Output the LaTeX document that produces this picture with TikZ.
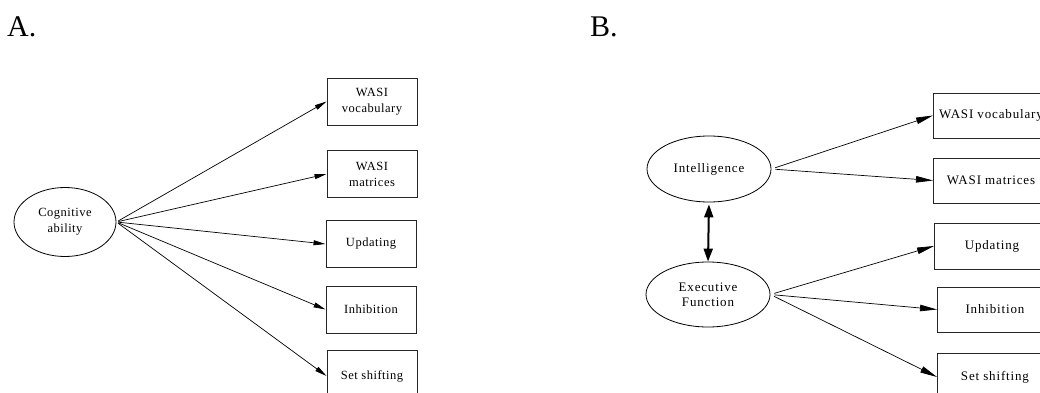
\documentclass[tikz,border=0pt]{standalone}
\usepackage{fontspec}
\setmainfont{Liberation Serif}
\usetikzlibrary{arrows.meta,shapes.geometric}
\newfontfamily\lblfont{Liberation Serif}
\newfontfamily\afont[LetterSpace=4]{Liberation Serif}
\newfontfamily\bfont[LetterSpace=6.5]{Liberation Serif}
\tikzset{
  panellabel/.style={anchor=base west,inner sep=0pt,font=\lblfont\fontsize{30}{30}\selectfont},
  latA/.style={ellipse,draw,line width=0.8pt,inner sep=0pt,minimum width=102pt,minimum height=69pt,align=center,font=\afont\fontsize{12.5}{16}\selectfont},
  boxA/.style={rectangle,draw=black!85,line width=0.9pt,inner sep=0pt,minimum width=90pt,minimum height=47pt,align=center,font=\afont\fontsize{12.5}{16}\selectfont},
  latB/.style={ellipse,draw,line width=0.8pt,inner sep=0pt,minimum width=124pt,minimum height=66pt,align=center,font=\bfont\fontsize{13}{15}\selectfont},
  boxB/.style={rectangle,draw=black!85,line width=0.9pt,inner sep=0pt,minimum width=115pt,minimum height=45pt,anchor=west,align=center,font=\bfont\fontsize{13}{15}\selectfont},
  arrA/.style={-{Triangle[length=12pt,width=5pt]},line width=0.7pt,shorten <=2pt},
  arrB/.style={-{Triangle[length=17pt,width=6.5pt]},line width=0.7pt,shorten <=4pt},
  dblB/.style={{Triangle[length=13pt,width=9pt]}-{Triangle[length=13pt,width=9pt]},line width=2pt,shorten <=2pt}
}
\begin{document}
\begin{tikzpicture}[x=1pt,y=-1pt]
\useasboundingbox (0,0) rectangle (1040,393);
\clip (0,0) rectangle (1040,393);
% Panel A
\node[panellabel] (la) at (7,37) {A.};
\node[latA] (ca) at (65,222) {Cognitive\\ability};
\node[boxA] (a1) at (372,101.5) {WASI\\vocabulary};
\node[boxA] (a2) at (372,174) {WASI\\matrices};
\node[boxA] (a3) at (371,244) {Updating};
\node[boxA] (a4) at (371,309.5) {Inhibition};
\node[boxA,minimum height=52pt] (a5) at (372,376) {Set shifting};
\foreach \t in {a1,a2,a3,a4,a5}{
  \draw[arrA] (ca.east) -- (\t.west);
}
% Panel B
\node[panellabel] (lb) at (590,37) {B.};
\node[latB] (bi) at (709,169) {Intelligence};
\node[latB,minimum height=65pt] (be) at (708,294.5) {Executive\\Function};
\node[boxB] (b1) at (933,115.5) {WASI vocabulary};
\node[boxB] (b2) at (933,180.5) {WASI matrices};
\node[boxB,minimum height=46pt] (b3) at (934,246) {Updating};
\node[boxB] (b4) at (937,309.5) {Inhibition};
\node[boxB,minimum height=48pt] (b5) at (937,377) {Set shifting};
\draw[arrB] (bi.east) -- (b1.west);
\draw[arrB] (bi.east) -- (b2.west);
\draw[arrB] (be.east) -- (b3.west);
\draw[arrB] (be.east) -- (b4.west);
\draw[arrB] (be.east) -- (b5.west);
\draw[dblB] (bi.south) -- (be.north);
\end{tikzpicture}
\end{document}
